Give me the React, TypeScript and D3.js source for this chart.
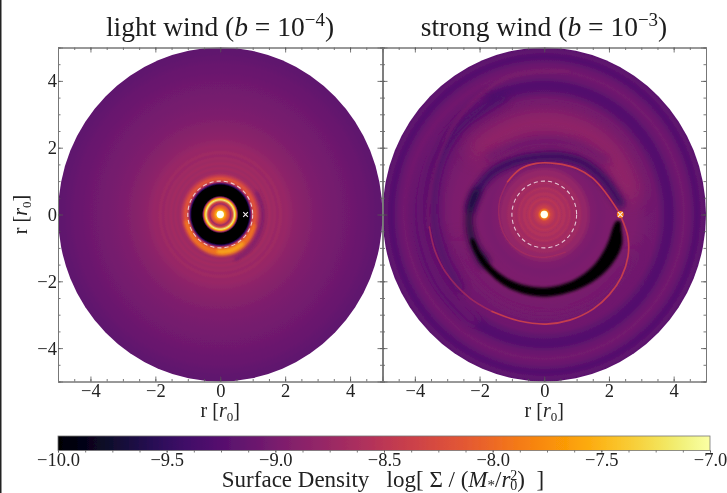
import { useEffect, useRef } from 'react';
import * as d3 from 'd3';

// azimuthal profiles, log surface density against radius in r0
const leftRadii = [0, 0.1, 0.13, 0.2, 0.27, 0.32, 0.38, 0.44, 0.48, 0.52, 0.56, 0.88, 0.92, 0.96, 1.02, 1.08, 1.15, 1.22, 1.3, 1.38, 1.45, 1.52, 1.6, 1.68, 1.76, 1.85, 1.95, 2.05, 2.15, 2.3, 2.5, 3, 3.5, 4, 4.5, 5];
const leftValues = [-7, -7, -7.55, -7.95, -8.25, -8.72, -8.3, -7.15, -7.6, -8.7, -10, -10, -9.5, -8.7, -8.25, -8.2, -8.42, -8.66, -8.74, -8.68, -8.74, -8.68, -8.74, -8.7, -8.76, -8.72, -8.78, -8.76, -8.8, -8.84, -8.88, -8.96, -9.02, -9.07, -9.13, -9.2];

const rightRadii = [0, 0.1, 0.13, 0.2, 0.3, 0.38, 0.46, 0.54, 0.62, 0.7, 0.78, 0.86, 0.94, 1.02, 1.1, 1.2, 1.3, 1.45, 1.7, 2, 2.4, 2.8, 3.2, 3.5, 3.78, 3.92, 4.1, 4.32, 4.5, 4.72, 4.88, 5];
const rightValues = [-7, -7, -7.9, -8.35, -8.5, -8.6, -8.52, -8.62, -8.56, -8.66, -8.6, -8.7, -8.66, -8.74, -8.72, -8.8, -8.8, -8.95, -9.0, -8.97, -8.95, -8.98, -9.04, -9.07, -9.27, -9.28, -9.13, -9.05, -9.12, -9.28, -9.18, -9.22];

// crescent of the light wind gap edge: angle (deg), inner r, outer r
const lightCrescent = [[-15, 1.07, 1.13], [-35, 1.05, 1.19], [-55, 1.04, 1.23], [-75, 1.04, 1.25], [-95, 1.04, 1.24], [-115, 1.04, 1.2], [-140, 1.03, 1.15], [-170, 1.03, 1.12]];
const lightHot = [[-50, 1.07, 1.14], [-65, 1.06, 1.18], [-80, 1.06, 1.18], [-95, 1.07, 1.15]];
const lightDarkBand = [[30, 1.3], [10, 1.32], [-10, 1.33], [-30, 1.35], [-50, 1.38], [-70, 1.42]];

// strong wind spirals: angle (deg), r
const innerArm = [[3, 2.28], [18, 2.02], [36, 1.85], [54, 1.7], [76, 1.57], [99, 1.55], [119, 1.55], [139, 1.5]];
const innerArmFaint = [[139, 1.5], [163, 1.44], [183, 1.4], [204, 1.38], [225, 1.35], [250, 1.31], [273, 1.28], [300, 1.3]];
const outerArm = [[-2, 2.38], [-14.5, 2.67], [-26, 2.88], [-38, 3.03], [-50, 3.13], [-62, 3.21], [-76, 3.26], [-89, 3.28], [-103.5, 3.28], [-119, 3.32]];
const outerArmMid = [[-119, 3.32], [-133, 3.4], [-150, 3.5], [-162.5, 3.55], [-174, 3.57]];
const outerArmFaint = [[-174, 3.57], [-184, 3.58], [-205, 3.66], [-230, 3.95], [-255, 4.25], [-280, 4.35]];
const crescent = [[-5, 2.24, 2.36], [-10, 2.16, 2.42], [-20, 2.14, 2.56], [-30, 2.14, 2.58], [-45, 2.16, 2.54], [-65, 2.17, 2.47], [-90, 2.19, 2.46], [-115, 2.22, 2.46], [-135, 2.25, 2.45], [-150, 2.28, 2.43], [-162, 2.32, 2.39]];
const crescentTail = [[-140, 2.22, 2.46], [-155, 2.24, 2.46], [-170, 2.24, 2.44], [-185, 2.2, 2.38], [-200, 2.12, 2.26]];
const darkInner = [[8, 2.38], [30, 2.12], [54, 1.95], [75, 1.8], [90, 1.74], [115, 1.8], [140, 2.02], [160, 2.18], [175, 2.28]];
const darkUpper = [[40, 2.5], [65, 2.32], [90, 2.2], [115, 2.24], [135, 2.42]];
const darkLeft = [[110, 3.72], [135, 3.68], [155, 3.55], [180, 3.42], [200, 3.36], [220, 3.42]];
const washLeft = [[120, 3.98], [150, 3.95], [180, 3.85], [210, 3.8], [235, 3.85]];
const glowTop = [[15, 2.75], [45, 2.8], [75, 2.8], [105, 2.8], [135, 2.85]];
const shadowLow = [[200, 2.85], [235, 2.8], [270, 2.82], [305, 2.85], [335, 2.9]];

const axisTicks = [-4, -2, 0, 2, 4];
const axisMinorTicks = d3.range(-5, 5.01, 0.5);
const barTicks = [-10, -9.5, -9, -8.5, -8, -7.5, -7];
const barMinorTicks = d3.range(-10, -6.99, 0.125);

const serif = '"Liberation Serif", serif';

export default function App() {
  const rootRef = useRef<SVGSVGElement | null>(null);

  useEffect(() => {
    const svg = d3.select(rootRef.current);
    svg.selectAll('*').remove();

    const color = d3.scaleSequential(d3.interpolateInferno).domain([-10, -7]);
    const defs = svg.append('defs');

    const blurs: Record<string, number> = { fine: 0.6, small: 1.5, mid: 3, wide: 4.5, wash: 9 };
    Object.entries(blurs).forEach(([name, blur]) => {
      defs.append('filter')
        .attr('id', name)
        .attr('filterUnits', 'userSpaceOnUse')
        .attr('x', 0).attr('y', 0).attr('width', 727).attr('height', 493)
        .append('feGaussianBlur').attr('stdDeviation', blur);
    });
    defs.append('filter').attr('id', 'soft')
      .attr('filterUnits', 'userSpaceOnUse')
      .attr('x', 0).attr('y', 0).attr('width', 727).attr('height', 493)
      .append('feGaussianBlur').attr('stdDeviation', 0.5);

    const page = svg.append('g').attr('filter', 'url(#soft)');
    page.append('rect').attr('width', 727).attr('height', 493).attr('fill', '#fff');
    page.append('rect').attr('width', 1.5).attr('height', 493).attr('fill', '#222');

    const top = 47.5;
    const bottom = 381.5;
    const y = d3.scaleLinear().domain([-5, 5]).range([bottom, top]);

    const panel = (name: string, left: number, right: number, radii: number[], values: number[]) => {
      const x = d3.scaleLinear().domain([-5, 5]).range([left, right]);
      const g = page.append('g');

      const grad = defs.append('radialGradient').attr('id', `profile-${name}`);
      radii.forEach((r, i) => {
        grad.append('stop').attr('offset', r / 5).attr('stop-color', color(values[i]));
      });

      const clipId = `clip-${name}`;
      defs.append('clipPath').attr('id', clipId)
        .append('ellipse')
        .attr('cx', x(0)).attr('cy', y(0))
        .attr('rx', x(5) - x(0)).attr('ry', y(-5) - y(0));

      g.append('ellipse')
        .attr('cx', x(0)).attr('cy', y(0))
        .attr('rx', x(5) - x(0)).attr('ry', y(-5) - y(0))
        .attr('fill', `url(#profile-${name})`);

      const disc = g.append('g').attr('clip-path', `url(#${clipId})`);

      const px = (theta: number, r: number): [number, number] => {
        const a = (theta * Math.PI) / 180;
        return [x(r * Math.cos(a)), y(r * Math.sin(a))];
      };
      const spiral = d3.line<number[]>()
        .x(d => px(d[0], d[1])[0])
        .y(d => px(d[0], d[1])[1])
        .curve(d3.curveCatmullRom);
      const band = (rows: number[][]) =>
        d3.line<number[]>().curve(d3.curveCatmullRomClosed)(
          [...rows.map(d => px(d[0], d[2])), ...[...rows].reverse().map(d => px(d[0], d[1]))]
        );

      const strokeArm = (rows: number[][], value: number, width: number, blur: string, opacity = 1) => {
        disc.append('path')
          .attr('d', spiral(rows))
          .attr('fill', 'none')
          .attr('stroke', color(value))
          .attr('stroke-width', width)
          .attr('stroke-linecap', 'round')
          .attr('opacity', opacity)
          .attr('filter', `url(#${blur})`);
      };
      const fillBand = (rows: number[][], value: number, blur: string, opacity = 1) => {
        disc.append('path')
          .attr('d', band(rows))
          .attr('fill', color(value))
          .attr('opacity', opacity)
          .attr('filter', `url(#${blur})`);
      };

      return { x, g, disc, px, strokeArm, fillBand };
    };

    const light = panel('light', 58, 382.5, leftRadii, leftValues);
    light.strokeArm(lightDarkBand, -9.1, 3.5, 'small', 0.6);
    light.fillBand(lightCrescent, -7.85, 'small', 0.8);
    light.fillBand(lightHot, -7.5, 'small', 0.8);

    const strong = panel('strong', 382.5, 706, rightRadii, rightValues);
    strong.strokeArm(glowTop, -8.72, 22, 'wash', 0.65);
    strong.strokeArm(shadowLow, -9.12, 14, 'wash', 0.55);
    strong.strokeArm(washLeft, -9.06, 12, 'wide', 0.75);
    strong.strokeArm(darkLeft, -9.34, 8, 'wide', 0.85);
    strong.strokeArm(outerArmFaint, -8.9, 3, 'small', 0.5);
    strong.strokeArm(darkUpper, -9.18, 7, 'wide', 0.75);
    strong.strokeArm(darkInner, -9.5, 9, 'mid', 0.9);
    strong.fillBand(crescentTail, -9.7, 'mid', 0.9);
    strong.fillBand(crescent, -10, 'small');
    strong.strokeArm(innerArmFaint, -8.62, 1.4, 'fine', 0.6);
    strong.strokeArm(innerArm, -8.4, 1.6, 'fine');
    strong.strokeArm(outerArmMid, -8.55, 1.7, 'fine', 0.65);
    strong.strokeArm(outerArm, -8.42, 1.7, 'fine');

    [light, strong].forEach(({ x, g }) => {
      // sink at the centre and the dashed circle at r = 1
      g.append('ellipse')
        .attr('cx', x(0)).attr('cy', y(0))
        .attr('rx', x(1) - x(0)).attr('ry', y(-1) - y(0))
        .attr('fill', 'none')
        .attr('stroke', '#f3dfe8')
        .attr('stroke-opacity', 0.85)
        .attr('stroke-width', 1.1)
        .attr('stroke-dasharray', '4.2 3');
      g.append('circle')
        .attr('cx', x(0)).attr('cy', y(0)).attr('r', 3.4)
        .attr('fill', '#fffff4');
    });

    const cross = d3.symbol().type(d3.symbolX).size(16);
    const marks: [typeof light, number][] = [[light, 0.78], [strong, 2.35]];
    marks.forEach(([p, r], i) => {
      if (i === 1) {
        p.g.append('circle')
          .attr('cx', p.x(r)).attr('cy', y(0)).attr('r', 3.4)
          .attr('fill', color(-7.85)).attr('filter', 'url(#fine)');
      }
      p.g.append('path')
        .attr('d', cross())
        .attr('transform', `translate(${p.x(r)},${y(0)})`)
        .attr('fill', 'none')
        .attr('stroke', '#f4eef2')
        .attr('stroke-width', 1.1);
    });

    // axes
    const styleAxis = (a: d3.Selection<SVGGElement, unknown, null, undefined>, size = 18.5) => {
      a.selectAll('.domain').attr('stroke', '#777').attr('stroke-width', 1);
      a.selectAll('.tick line').attr('stroke', '#555').attr('stroke-width', 0.8);
      a.selectAll('text').attr('font-family', serif).attr('font-size', size).attr('fill', '#222');
    };

    const axisLabel = (t: d3.Selection<SVGTextElement, unknown, null, undefined>) => {
      t.attr('text-anchor', 'middle')
        .attr('font-family', serif).attr('font-size', 20).attr('fill', '#222');
      t.append('tspan').text('r [');
      t.append('tspan').attr('font-style', 'italic').text('r');
      t.append('tspan').attr('font-size', 13).attr('dy', 4).text('0');
      t.append('tspan').attr('dy', -4).text(']');
    };

    [light, strong].forEach(({ x }, idx) => {
      const frame = page.append('g');
      const add = (axis: d3.Axis<d3.NumberValue>, tx: number, ty: number) => {
        const a = frame.append('g').attr('transform', `translate(${tx},${ty})`) as d3.Selection<SVGGElement, unknown, null, undefined>;
        a.call(axis);
        styleAxis(a);
        return a;
      };
      const noLabel = () => '';

      add(d3.axisBottom(x).tickValues(axisMinorTicks).tickSize(-2.5).tickFormat(noLabel), 0, bottom);
      add(d3.axisBottom(x).tickValues(axisTicks).tickSize(-5).tickPadding(2), 0, bottom);
      add(d3.axisTop(x).tickValues(axisMinorTicks).tickSize(-2.5).tickFormat(noLabel), 0, top);
      add(d3.axisTop(x).tickValues(axisTicks).tickSize(-5).tickFormat(noLabel), 0, top);

      const l = x.range()[0];
      const r = x.range()[1];
      add(d3.axisLeft(y).tickValues(axisMinorTicks).tickSize(-2.5).tickFormat(noLabel), l, 0);
      add(d3.axisRight(y).tickValues(axisMinorTicks).tickSize(-2.5).tickFormat(noLabel), r, 0);
      add(d3.axisRight(y).tickValues(axisTicks).tickSize(-5).tickFormat(noLabel), r, 0);
      const major = idx === 0
        ? d3.axisLeft(y).tickValues(axisTicks).tickSize(-5).tickPadding(1)
        : d3.axisLeft(y).tickValues(axisTicks).tickSize(-5).tickFormat(noLabel);
      add(major, l, 0);

      axisLabel(page.append('text').attr('x', x(0)).attr('y', 417));
    });

    axisLabel(page.append('text').attr('transform', `translate(27,${y(0)}) rotate(-90)`));

    // titles
    const title = (cx: number, label: string, exp: string) => {
      const t = page.append('text')
        .attr('x', cx).attr('y', 36)
        .attr('text-anchor', 'middle')
        .attr('font-family', serif).attr('font-size', 27.5).attr('fill', '#1c1c1c');
      t.append('tspan').text(`${label} (`);
      t.append('tspan').attr('font-style', 'italic').text('b');
      t.append('tspan').text(' = 10');
      t.append('tspan').attr('font-size', 19).attr('dy', -10).text(exp);
      t.append('tspan').attr('dy', 10).text(')');
    };
    title(220, 'light wind', '−4');
    title(544, 'strong wind', '−3');

    // colour bar
    const barX = d3.scaleLinear().domain([-10, -7]).range([58, 710]);
    const barTop = 436;
    const barBottom = 450.5;
    const barGrad = defs.append('linearGradient').attr('id', 'bar');
    d3.range(0, 1.001, 0.02).forEach(t => {
      barGrad.append('stop').attr('offset', t).attr('stop-color', d3.interpolateInferno(t));
    });
    page.append('rect')
      .attr('x', barX(-10)).attr('y', barTop)
      .attr('width', barX(-7) - barX(-10)).attr('height', barBottom - barTop)
      .attr('fill', 'url(#bar)')
      .attr('stroke', '#777').attr('stroke-width', 0.8);
    const barMinor = page.append('g').attr('transform', `translate(0,${barBottom})`) as d3.Selection<SVGGElement, unknown, null, undefined>;
    barMinor.call(d3.axisBottom(barX).tickValues(barMinorTicks).tickSize(2).tickFormat(() => ''));
    styleAxis(barMinor);
    barMinor.select('.domain').remove();
    const barMajor = page.append('g').attr('transform', `translate(0,${barBottom})`) as d3.Selection<SVGGElement, unknown, null, undefined>;
    barMajor.call(d3.axisBottom(barX).tickValues(barTicks).tickSize(2).tickPadding(0).tickFormat(d3.format('.1f') as any));
    styleAxis(barMajor, 18.5);
    barMajor.select('.domain').remove();

    const bl = page.append('text')
      .attr('x', 383).attr('y', 487)
      .attr('text-anchor', 'middle')
      .attr('font-family', serif).attr('font-size', 23).attr('fill', '#222')
      .attr('xml:space', 'preserve');
    bl.append('tspan').text('Surface Density   log[ Σ / (');
    bl.append('tspan').attr('font-style', 'italic').text('M');
    bl.append('tspan').attr('font-size', 15).attr('dy', 3).text('*');
    bl.append('tspan').attr('dy', -3).text('/');
    bl.append('tspan').attr('font-style', 'italic').text('r');
    bl.append('tspan').attr('font-size', 14).attr('dy', -7).text('2');
    bl.append('tspan').attr('font-size', 14).attr('dy', 10).attr('dx', -7).text('0');
    bl.append('tspan').attr('dy', -3).text(')  ]');
  }, []);

  return (
    <svg
      ref={rootRef}
      width={727}
      height={493}
      style={{ position: 'absolute', left: 0, top: 0, display: 'block' }}
    />
  );
}
